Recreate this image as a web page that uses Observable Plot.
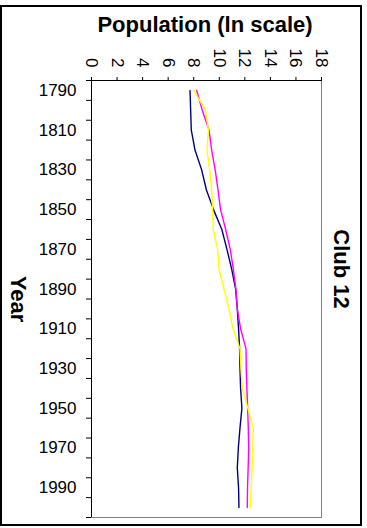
<!DOCTYPE html>
<html><head><meta charset="utf-8">
<script src="https://cdn.jsdelivr.net/npm/d3@7"></script>
<script src="https://cdn.jsdelivr.net/npm/@observablehq/plot@0.6"></script>
<style>body{margin:0;background:#fff;} svg{overflow:visible}</style>
</head><body><div id="chart"></div>
<script>
const years = [1790,1800,1810,1820,1830,1840,1850,1860,1870,1880,1890,1900,1910,1920,1930,1940,1950,1960,1970,1980,1990,2000];
const navySeries = [7.71,7.76,7.81,8.10,8.62,8.99,9.55,10.2,10.6,10.97,11.28,11.41,11.51,11.59,11.62,11.67,11.77,11.62,11.49,11.41,11.51,11.54];
const magentaSeries = [8.23,8.67,9.20,9.40,9.68,9.90,10.10,10.50,10.86,11.10,11.30,11.41,11.67,12.09,12.11,12.16,12.22,12.27,12.30,12.26,12.21,12.19];
const yellowSeries = [8.0,8.93,9.15,9.04,9.25,9.40,9.48,9.53,9.87,9.98,10.37,10.76,11.07,11.62,11.70,11.80,12.24,12.66,12.62,12.57,12.50,12.42];
const seriesNames = ["navy","magenta","yellow"];
const seriesColors = ["#000080","#ff00ff","#ffff00"];
const xTicks = [0,2,4,6,8,10,12,14,16,18];
const yLabels = [1790,1810,1830,1850,1870,1890,1910,1930,1950,1970,1990];
const yBoundaries = [1785,1795,1805,1815,1825,1835,1845,1855,1865,1875,1885,1895,1905,1915,1925,1935,1945,1955,1965,1975,1985,1995,2005];

const rows = [];
[navySeries, magentaSeries, yellowSeries].forEach((vals, k) => {
  years.forEach((yr, i) => rows.push({year: yr, value: vals[i], series: seriesNames[k]}));
});

const FONT = "'Liberation Sans', Arial, sans-serif";
const chart = Plot.plot({
  width: 367, height: 528,
  marginTop: 80, marginLeft: 91, marginRight: 46, marginBottom: 11,
  style: {fontFamily: FONT, fontSize: "17px", color: "black", background: "white"},
  x: {domain: [0, 18]},
  y: {domain: [1785, 2005], reverse: true},
  color: {domain: seriesNames, range: seriesColors},
  marks: [
    Plot.frame({stroke: "#808080"}),
    Plot.axisY({ticks: yBoundaries, tickSize: 5, tickFormat: () => "", label: null}),
    Plot.axisY({ticks: yLabels, tickSize: 0, tickPadding: 15, tickFormat: d => String(d), label: null, fontSize: 17}),
    Plot.axisX({anchor: "top", ticks: xTicks, tickSize: 4, tickFormat: () => "", label: null}),
    Plot.text(xTicks, {x: d => d, frameAnchor: "top", dy: -13, rotate: 90, textAnchor: "end", lineAnchor: "middle", text: d => String(d), fontSize: 17}),
    Plot.line(rows, {x: "value", y: "year", z: "series", stroke: "series", strokeWidth: 1.4}),
    Plot.ruleX([0], {stroke: "black"}),
    Plot.ruleY([1785], {stroke: "black"})
  ]
});
document.getElementById("chart").appendChild(chart);

const svg = d3.select(chart);
svg.append("rect").attr("x", 1).attr("y", 6).attr("width", 360).attr("height", 519)
  .attr("fill", "none").attr("stroke", "black").attr("stroke-width", 2);
svg.append("text").attr("x", 205).attr("y", 32).attr("text-anchor", "middle")
  .attr("font-family", FONT).attr("font-weight", "bold").attr("font-size", 22).attr("fill", "black")
  .text("Population (ln scale)");
svg.append("text").attr("transform", "translate(19,299) rotate(90)").attr("text-anchor", "middle").attr("dy", "0.35em")
  .attr("font-family", FONT).attr("font-weight", "bold").attr("font-size", 22).attr("fill", "black")
  .text("Year");
svg.append("text").attr("transform", "translate(342,269) rotate(90)").attr("text-anchor", "middle").attr("dy", "0.35em")
  .attr("font-family", FONT).attr("font-weight", "bold").attr("font-size", 22).attr("fill", "black")
  .text("Club 12");
</script>
</body></html>
